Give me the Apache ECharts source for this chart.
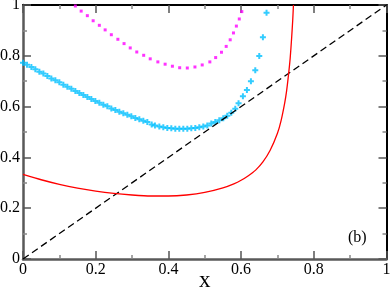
<!DOCTYPE html>
<html><head><meta charset="utf-8">
<script src="https://cdn.jsdelivr.net/npm/echarts@6/dist/echarts.min.js"></script>
<style>html,body{margin:0;padding:0;background:#fff}#c{width:390px;height:289px}</style>
</head><body><div id="c"></div>
<script>
const xTicks = ['0','0.2','0.4','0.6','0.8','1'];
const yTicks = ['0','0.2','0.4','0.6','0.8','1'];
const diagX = [0, 1];
const diagY = [0, 1];
const redX = [0,0.05,0.1,0.15,0.2,0.25,0.3,0.35,0.4,0.45,0.5,0.55,0.58,0.6,0.62,0.64,0.66,0.68,0.70,0.71,0.72,0.725,0.73,0.735,0.739,0.742,0.744];
const redY = [0.333,0.312,0.294,0.279,0.267,0.258,0.252,0.248,0.248,0.252,0.262,0.280,0.296,0.310,0.328,0.350,0.382,0.428,0.495,0.545,0.615,0.66,0.72,0.79,0.87,0.94,1.0];
const magX = [0.144,0.160,0.177,0.193,0.210,0.226,0.243,0.261,0.278,0.295,0.313,0.332,0.350,0.371,0.391,0.411,0.431,0.452,0.473,0.493,0.514,0.530,0.546,0.559,0.570,0.579,0.587,0.595,0.602];
const magY = [0.996,0.976,0.958,0.938,0.920,0.902,0.883,0.865,0.848,0.831,0.815,0.802,0.788,0.776,0.767,0.759,0.753,0.752,0.756,0.764,0.776,0.793,0.814,0.837,0.863,0.890,0.917,0.945,0.974];
const cyanX = [0.0,0.011,0.023,0.034,0.045,0.056,0.067,0.078,0.089,0.100,0.111,0.122,0.133,0.144,0.155,0.166,0.177,0.188,0.199,0.210,0.221,0.232,0.243,0.254,0.265,0.276,0.287,0.298,0.309,0.320,0.331,0.342,0.354,0.363,0.375,0.386,0.397,0.408,0.419,0.430,0.441,0.452,0.463,0.474,0.485,0.496,0.507,0.518,0.529,0.540,0.551,0.562,0.573,0.584,0.593,0.605,0.616,0.627,0.639,0.650,0.660,0.670];
const cyanY = [0.773,0.765,0.756,0.747,0.737,0.730,0.720,0.711,0.704,0.696,0.686,0.678,0.670,0.661,0.654,0.646,0.638,0.630,0.622,0.615,0.607,0.601,0.593,0.587,0.580,0.574,0.568,0.562,0.555,0.550,0.544,0.539,0.530,0.526,0.522,0.519,0.516,0.515,0.513,0.513,0.513,0.513,0.515,0.516,0.519,0.522,0.526,0.533,0.539,0.546,0.554,0.564,0.576,0.592,0.613,0.641,0.665,0.700,0.743,0.799,0.873,0.969];

const zip = (a, b) => a.map((v, i) => [v, b[i]]);
const fmt = v => xTicks[Math.round(v / 0.2)] ?? '';
const fmtY = v => yTicks[Math.round(v / 0.2)] ?? '';
const FONT = '"Liberation Serif", "Times New Roman", serif';

const chart = echarts.init(document.getElementById('c'), null, {renderer: 'canvas'});
const axisBase = (isX, pos, showLabel, lineColor, lineW) => ({
  type: 'value', min: 0, max: 1, interval: 0.2, position: pos,
  axisLine: {show: true, onZero: false, lineStyle: {color: lineColor, width: lineW}},
  axisTick: {show: true, inside: true, length: 8, lineStyle: {color: '#555', width: 1.5}},
  minorTick: {show: true, splitNumber: 2, length: 4, lineStyle: {color: '#888', width: 1.5}},
  splitLine: {show: false},
  axisLabel: {show: showLabel, color: '#000', fontFamily: FONT, fontSize: 16,
    margin: 3, formatter: isX ? fmt : fmtY}
});
chart.setOption({
  animation: false,
  grid: {left: 23, right: 3.5, top: 5, bottom: 30, containLabel: false, outerBoundsMode: 'none'},
  title: {text: '(b)', left: 343, top: 225, textStyle: {fontFamily: FONT, fontSize: 16, fontWeight: 'normal', color: '#000'}},
  xAxis: [
    Object.assign(axisBase(true, 'bottom', true, '#595959', 2.5), {name: 'x', nameLocation: 'middle', nameGap: 10,
      nameMoveOverlap: false,
      nameTextStyle: {fontFamily: FONT, fontSize: 23, color: '#000', verticalAlign: 'top'}}),
    axisBase(true, 'top', false, '#000', 2)
  ],
  yAxis: [
    axisBase(false, 'left', true, '#595959', 2.5),
    axisBase(false, 'right', false, '#000', 2)
  ],
  series: [
    {type: 'line', data: zip(diagX, diagY), symbol: 'none', silent: true,
     lineStyle: {color: '#000', width: 1.3, type: [7, 4]}},
    {type: 'line', data: zip(redX, redY), symbol: 'none', smooth: 0.2, silent: true,
     lineStyle: {color: '#ff0000', width: 1.3}},
    {type: 'scatter', data: zip(magX, magY), symbol: 'rect', symbolSize: 3,
     itemStyle: {color: '#ff00ff'}},
    {type: 'scatter', data: zip(cyanX, cyanY),
     symbol: 'path://M2,0H4V2H6V4H4V6H2V4H0V2H2Z', symbolSize: 6,
     itemStyle: {color: '#00bfff'}}
  ]
});
</script></body></html>
